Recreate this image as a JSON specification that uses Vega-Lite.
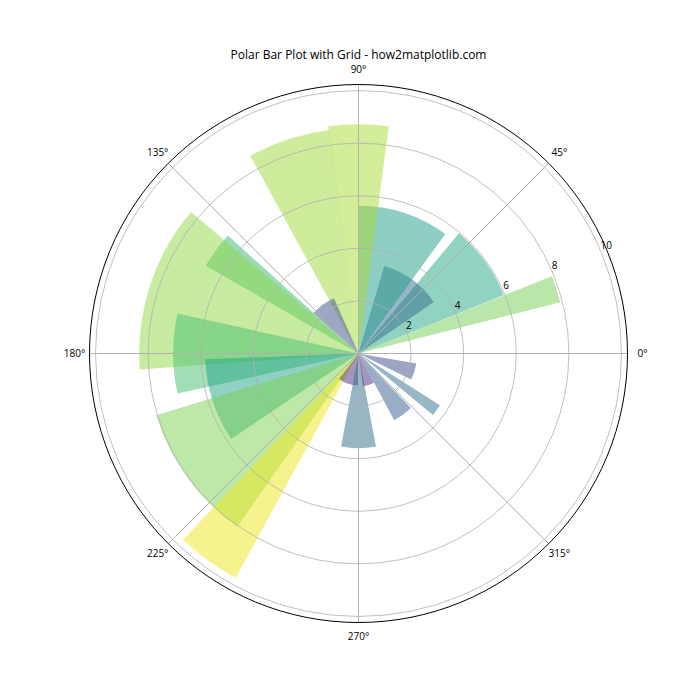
{
  "$schema": "https://vega.github.io/schema/vega-lite/v6.json",
  "width": 560,
  "height": 560,
  "autosize": {"type": "none"},
  "padding": {"left": 78.5, "top": 73.5, "right": 61.5, "bottom": 66.5},
  "background": "white",
  "config": {"view": {"stroke": null}},
  "title": {"text": "Polar Bar Plot with Grid - how2matplotlib.com", "font": "Open Sans", "fontSize": 12, "fontWeight": "normal", "color": "black", "anchor": "middle", "baseline": "alphabetic", "offset": 5, "dy": 11},
  "datasets": {
    "bars": [
      {"start": -5, "end": 5, "r": 0.12},
      {"start": 14.25, "end": 21.75, "r": 7.92},
      {"start": 21.9, "end": 50.1, "r": 5.96},
      {"start": 34.35, "end": 73.65, "r": 3.47},
      {"start": 54, "end": 90, "r": 5.62},
      {"start": 82.4, "end": 97.6, "r": 8.72},
      {"start": 97.5, "end": 118.7, "r": 8.57},
      {"start": 114, "end": 138, "r": 2.3},
      {"start": 137.9, "end": 150.1, "r": 6.7},
      {"start": 139.8, "end": 184.2, "r": 8.34},
      {"start": 167.55, "end": 192.45, "r": 7.05},
      {"start": 182.15, "end": 213.85, "r": 5.83},
      {"start": 197, "end": 235, "r": 8.04},
      {"start": 226.7, "end": 241.3, "r": 9.73},
      {"start": 233, "end": 271, "r": 1.22},
      {"start": 259.4, "end": 280.6, "r": 3.6},
      {"start": 278, "end": 298, "r": 1.26},
      {"start": 298.1, "end": 313.9, "r": 2.88},
      {"start": 320.5, "end": 327.5, "r": 3.67},
      {"start": 333.8, "end": 350.2, "r": 2.23}
    ],
    "rings": [{"ring": 2}, {"ring": 4}, {"ring": 6}, {"ring": 8}, {"ring": 10}],
    "spokes": [
      {"a": 0, "t": "0°"}, {"a": 45, "t": "45°"}, {"a": 90, "t": "90°"}, {"a": 135, "t": "135°"},
      {"a": 180, "t": "180°"}, {"a": 225, "t": "225°"}, {"a": 270, "t": "270°"}, {"a": 315, "t": "315°"}
    ],
    "rlabels": [{"v": 2, "t": "2"}, {"v": 4, "t": "4"}, {"v": 6, "t": "6"}, {"v": 8, "t": "8"}, {"v": 10, "t": "10"}]
  },
  "resolve": {"scale": {"theta": "shared", "radius": "shared"}},
  "layer": [
    {
      "data": {"name": "bars"},
      "mark": {"type": "arc", "opacity": 0.5, "strokeWidth": 0},
      "encoding": {
        "theta": {"field": "start", "type": "quantitative", "stack": null, "scale": {"type": "linear", "domain": [0, 360], "range": [1.5707963267948966, -4.71238898038469], "zero": false, "nice": false}},
        "theta2": {"field": "end"},
        "radius": {"field": "r", "type": "quantitative", "stack": null, "scale": {"type": "linear", "domain": [0, 10.23], "range": [0, 269], "zero": true, "nice": false}},
        "radius2": {"value": 0},
        "color": {"field": "r", "type": "quantitative", "scale": {"scheme": "viridis", "domain": [0, 10]}, "legend": null}
      }
    },
    {
      "data": {"name": "rings"},
      "mark": {"type": "arc", "filled": false, "fill": "transparent", "stroke": "#b0b0b0", "strokeWidth": 0.8},
      "encoding": {
        "theta": {"datum": 0, "type": "quantitative", "stack": null},
        "theta2": {"datum": 370},
        "radius": {"field": "ring", "type": "quantitative", "stack": null},
        "radius2": {"value": 0}
      }
    },
    {
      "data": {"name": "spokes"},
      "mark": {"type": "arc", "filled": false, "fill": "transparent", "stroke": "#b0b0b0", "strokeWidth": 0.8},
      "encoding": {
        "theta": {"field": "a", "type": "quantitative", "stack": null},
        "theta2": {"field": "a"},
        "radius": {"datum": 10.23, "type": "quantitative", "stack": null},
        "radius2": {"value": 0}
      }
    },
    {
      "data": {"values": [{"edge": 10.23}]},
      "mark": {"type": "arc", "filled": false, "fill": "transparent", "stroke": "black", "strokeWidth": 1},
      "encoding": {
        "theta": {"datum": 0, "type": "quantitative", "stack": null},
        "theta2": {"datum": 370},
        "radius": {"field": "edge", "type": "quantitative", "stack": null},
        "radius2": {"value": 0}
      }
    },
    {
      "data": {"name": "spokes"},
      "mark": {"type": "text", "font": "Open Sans", "fontSize": 10, "color": "black", "align": "center", "baseline": "middle"},
      "encoding": {
        "theta": {"field": "a", "type": "quantitative", "stack": null},
        "radius": {"datum": 10.8, "type": "quantitative", "stack": null},
        "text": {"field": "t"}
      }
    },
    {
      "data": {"name": "rlabels"},
      "mark": {"type": "text", "font": "Open Sans", "fontSize": 10, "color": "black", "align": "left", "baseline": "bottom", "dx": -1, "dy": -2},
      "encoding": {
        "theta": {"datum": 22.5, "type": "quantitative", "stack": null},
        "radius": {"field": "v", "type": "quantitative", "stack": null},
        "text": {"field": "t"}
      }
    }
  ]
}
